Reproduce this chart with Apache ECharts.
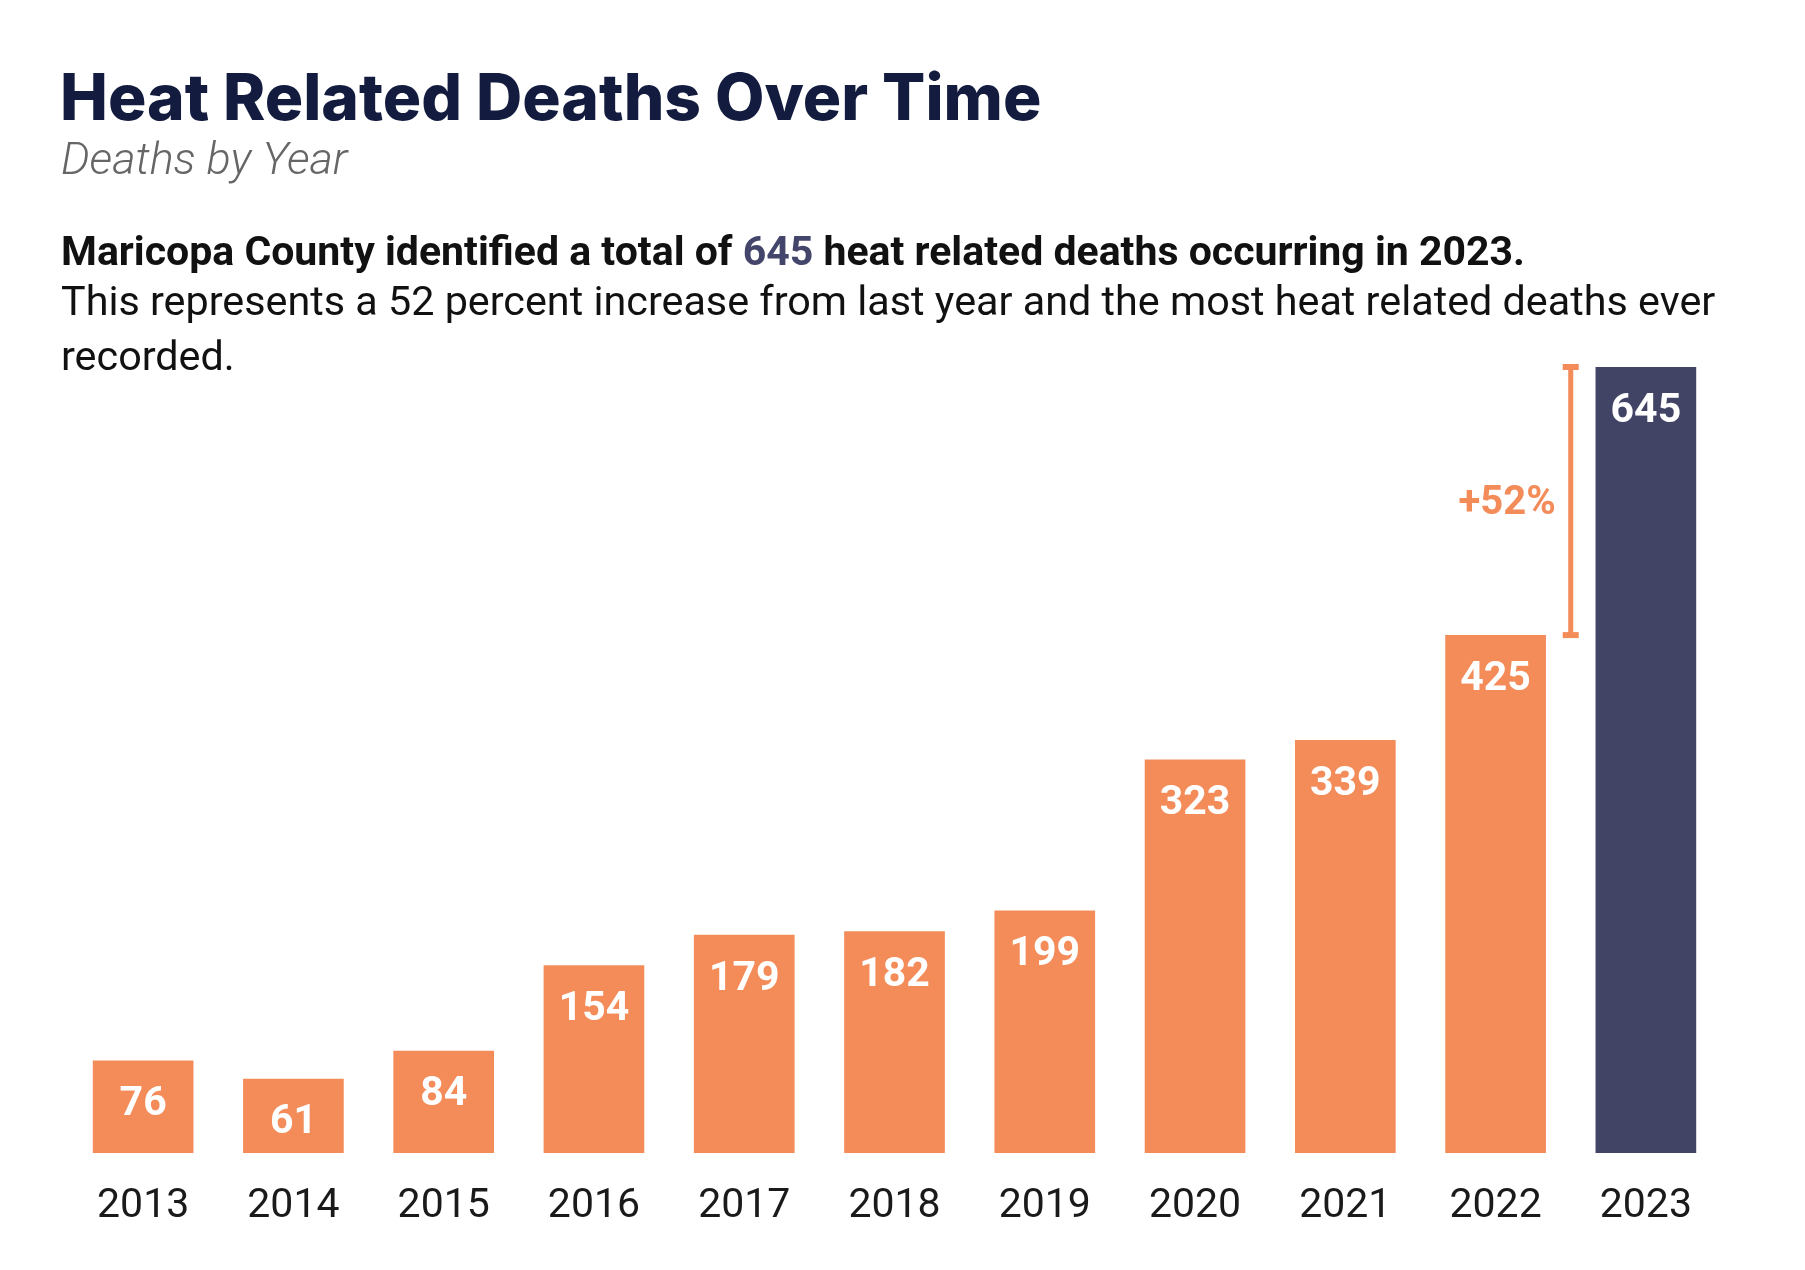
<!DOCTYPE html>
<html>
<head>
<meta charset="utf-8">
<script src="https://cdn.jsdelivr.net/npm/echarts@6/dist/echarts.min.js"></script>
<style>
html, body { margin: 0; padding: 0; background: #fff; }
#chart { width: 1805px; height: 1270px; }
</style>
</head>
<body>
<div id="chart"></div>
<script>
var years = ["2013", "2014", "2015", "2016", "2017", "2018", "2019", "2020", "2021", "2022", "2023"];
var deaths = [76, 61, 84, 154, 179, 182, 199, 323, 339, 425, 645];
var change = "+52%";

var orange = "#F48C5A";
var navy = "#424466";

var chart = echarts.init(document.getElementById("chart"));

var barData = deaths.map(function(v, i) {
	return {
		value: v,
		itemStyle: { color: i == deaths.length - 1 ? navy : orange }
	};
});

var option = {
	backgroundColor: "#fff",
	animation: false,
	title: [{
		text: "Heat Related Deaths Over Time",
		left: 55,
		top: 61,
		textStyle: { fontFamily: "Inter, 'Open Sans', sans-serif", fontWeight: 800, fontSize: 64, color: "#131C3F", lineHeight: 70 }
	}, {
		text: "Deaths by Year",
		left: 56,
		top: 133,
		textStyle: { fontFamily: "Roboto, sans-serif", fontStyle: "italic", fontWeight: 300, fontSize: 45, color: "#666666", lineHeight: 50 }
	}, {
		text: "Maricopa County identified a total of {n|645} heat related deaths occurring in 2023.",
		left: 56,
		top: 227,
		textStyle: {
			fontFamily: "Roboto, sans-serif", fontWeight: "bold", fontSize: 41, color: "#111111", lineHeight: 46,
			rich: { n: { fontFamily: "Roboto, sans-serif", fontWeight: "bold", fontSize: 41, color: "#43456A" } }
		}
	}, {
		text: "This represents a 52 percent increase from last year and the most heat related deaths ever\nrecorded.",
		left: 56,
		top: 272,
		textStyle: { fontFamily: "Roboto, sans-serif", fontWeight: "normal", fontSize: 41.3, color: "#111111", lineHeight: 55 }
	}],
	grid: { left: 68, right: 84, top: 367, bottom: 117 },
	xAxis: {
		type: "category",
		data: years,
		axisLine: { show: false },
		axisTick: { show: false },
		axisLabel: { margin: 33, fontFamily: "Roboto, sans-serif", fontSize: 41, color: "#1A1A1A" }
	},
	yAxis: {
		type: "value",
		min: 0,
		max: 645,
		show: false
	},
	series: [{
		type: "bar",
		data: barData,
		barWidth: "67%",
		label: {
			show: true,
			position: "insideTop",
			distance: 24,
			color: "#fff",
			fontFamily: "Roboto, sans-serif",
			fontWeight: "bold",
			fontSize: 41
		}
	}, {
		type: "custom",
		data: [[years.length - 1, deaths[deaths.length - 2], deaths[deaths.length - 1]]],
		renderItem: function(params, api) {
			var lo = api.coord([api.value(0), api.value(1)]);
			var hi = api.coord([api.value(0), api.value(2)]);
			var band = api.size([1, 0])[0];
			var x = lo[0] - band / 2;
			var style = { stroke: orange, lineWidth: 5 };
			return {
				type: "group",
				children: [
					{ type: "line", shape: { x1: x, y1: hi[1], x2: x, y2: lo[1] }, style: style },
					{ type: "line", shape: { x1: x - 8, y1: hi[1], x2: x + 8, y2: hi[1] }, style: { stroke: orange, lineWidth: 6 } },
					{ type: "line", shape: { x1: x - 8, y1: lo[1], x2: x + 8, y2: lo[1] }, style: { stroke: orange, lineWidth: 6 } },
					{
						type: "text",
						style: {
							x: x - 15, y: (hi[1] + lo[1]) / 2 + 3,
							text: change,
							align: "right", verticalAlign: "middle",
							fill: orange,
							font: "bold 40px Roboto, sans-serif"
						}
					}
				]
			};
		}
	}]
};

chart.setOption(option);
</script>
</body>
</html>
